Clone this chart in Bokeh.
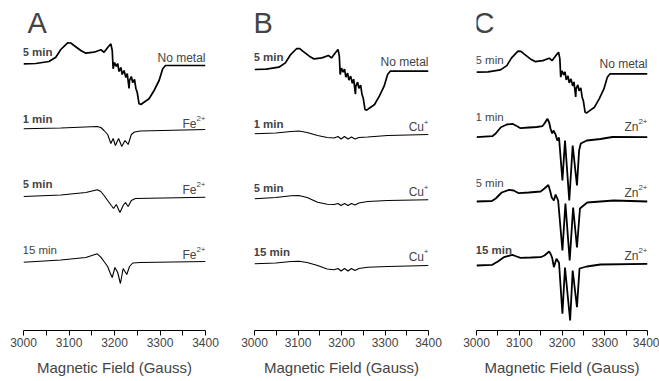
from bokeh.plotting import figure
from bokeh.layouts import row
from bokeh.models import Range1d, FixedTicker, Label
from bokeh.embed import file_html
from bokeh.resources import INLINE

# ---------------- data (field in Gauss, signal in arbitrary units, up = positive) -------------
field_ticks = [3000, 3100, 3200, 3300, 3400]
field_minor = [3050, 3150, 3250, 3350]

no_metal = [(3000, 0), (3027, 0.3), (3056, 2.3), (3071, 6.6), (3082, 14.3), (3097, 21), (3104, 20.8),
            (3111, 18.3), (3126, 13.3), (3137, 10.6), (3155, 11.6), (3170, 14), (3177, 11.6), (3185, 16.3),
            (3192, 20), (3195, 13.3), (3197, -5), (3200, 1.3), (3204, -2.7), (3207, 0.3), (3210, -7.7),
            (3214, -3.7), (3217, -10.7), (3221, -6.7), (3225, -13.7), (3228, -9.7), (3232, -24.7),
            (3233, -16.7), (3237, -12.7), (3240, -18.7), (3244, -15.7), (3247, -24.7), (3250, -28.7),
            (3254, -40), (3258, -40.7), (3264, -38.7), (3276, -35), (3287, -26.7), (3298, -16.7),
            (3306, -5), (3312, -1.7), (3400, -1.7)]

fe_1min = [(3000, 0), (3082, 0.8), (3162, 2.3), (3170, 1.3), (3177, -1.7), (3185, -5.7), (3192, -14.7),
           (3197, -9.7), (3202, -16.7), (3209, -9.7), (3216, -17.7), (3223, -11.7), (3230, -15.7),
           (3237, -5.7), (3244, -3.2), (3257, -2.2), (3400, -0.7)]
fe_5min = [(3000, 0), (3082, 1.5), (3137, 4), (3162, 6.7), (3170, 5), (3177, 1), (3185, -4), (3193, -9),
           (3198, -12), (3204, -8), (3212, -16), (3219, -9), (3224, -6), (3230, -10), (3237, -4),
           (3246, -2), (3400, -0.7)]
fe_15min = [(3000, 0), (3082, 2.2), (3137, 4.7), (3162, 8.4), (3170, 5), (3177, 0.7), (3185, -4.3),
            (3190, -10.3), (3195, -15.3), (3201, -5.3), (3207, -10.3), (3213, -21.3), (3219, -6.3),
            (3227, -12.3), (3233, -4.3), (3240, -0.8), (3257, -0.3), (3400, 0.7)]

cu_1min = [(3000, 0), (3049, 0.8), (3084, 2.3), (3102, 2.8), (3121, 1.3), (3145, -1.7), (3167, -3.7),
           (3183, -4.2), (3192, -2.7), (3199, -5.2), (3207, -2.7), (3215, -5.2), (3223, -3.2), (3231, -5.2),
           (3240, -3.7), (3260, -3.2), (3306, -1.7), (3400, -0.7)]
cu_5min = [(3000, 0), (3049, 1.3), (3084, 3.1), (3102, 3.3), (3121, 1.3), (3145, -3.4), (3167, -5.4),
           (3183, -5.7), (3192, -4.7), (3199, -6.7), (3207, -4.7), (3215, -6.7), (3223, -4.7), (3231, -6.2),
           (3240, -4.2), (3260, -2.7), (3306, -1.7), (3400, -1)]
cu_15min = [(3000, 0), (3049, 0.8), (3084, 2.3), (3102, 2.6), (3121, 1.3), (3145, -1.7), (3167, -5.2),
            (3183, -6), (3192, -4.7), (3199, -7.2), (3207, -4.7), (3215, -7.2), (3223, -4.7), (3231, -6.7),
            (3240, -4.7), (3260, -3.4), (3306, -2.7), (3400, -1.7)]

zn_1min = [(3000, 0), (3037, 1), (3045, 3.7), (3057, 10), (3071, 12.7), (3084, 13.4), (3094, 11.2),
           (3103, 9), (3123, 9.7), (3141, 10.2), (3154, 11), (3159, 13.7), (3166, 18.4), (3170, 14.7),
           (3173, 8.7), (3177, 3.7), (3180, 6.7), (3185, 2.7), (3189, -3.3), (3193, -0.3), (3201, -43.3),
           (3207, -3.3), (3217, -63.3), (3225, -8.3), (3235, -48.3), (3240, -13.3), (3244, -6.3),
           (3258, -3.3), (3290, -1.8), (3318, 0.2), (3400, 0)]
zn_5min = [(3000, 0), (3036, 0.5), (3045, 3), (3059, 9), (3076, 11.7), (3087, 11), (3099, 8.3), (3122, 9),
           (3150, 10), (3159, 13), (3168, 16.5), (3172, 11), (3176, 4), (3181, 1), (3185, 7), (3191, 1),
           (3201, -49), (3208, -2), (3218, -59), (3226, -6), (3235, -46), (3242, -7), (3259, -1),
           (3321, 1), (3400, 0)]
zn_15min = [(3000, 0), (3037, 0.7), (3050, 4), (3064, 8.3), (3084, 10.7), (3094, 9), (3103, 7.7),
            (3127, 8), (3150, 8.3), (3159, 10), (3170, 14), (3174, 11), (3177, 7.7), (3181, -1.7),
            (3187, 6.7), (3193, 2.7), (3201, -48.3), (3207, -2), (3219, -55), (3225, -5), (3235, -41.7),
            (3241, -3), (3258, -1), (3290, 1), (3400, 1.7)]

# ---------------- layout / style ----------------
FONT = "Liberation Sans"
TOP = 0          # page y of frame top
AXIS_Y = 330     # page y of axis line
FIG_H = 381


def page_y(y):
    return -y


def make_panel(letter, width, b_left, b_right, letter_dx, traces, labels):
    p = figure(width=width, height=FIG_H, output_backend="svg", toolbar_location=None,
               x_range=Range1d(3000, 3400), y_range=Range1d(-AXIS_Y, -TOP),
               min_border_left=b_left, min_border_right=b_right, min_border_top=0,
               min_border_bottom=FIG_H - (AXIS_Y - TOP))
    p.outline_line_color = None
    p.grid.visible = False
    p.yaxis.visible = False
    ax = p.xaxis[0]
    ax.ticker = FixedTicker(ticks=field_ticks, minor_ticks=field_minor)
    ax.axis_label = "Magnetic Field (Gauss)"
    ax.axis_label_text_font = FONT
    ax.axis_label_text_font_style = "normal"
    ax.axis_label_text_font_size = "15px"
    ax.axis_label_standoff = 9
    ax.major_label_text_font = FONT
    ax.major_label_text_font_size = "12px"
    ax.major_label_standoff = 2
    ax.major_tick_in = 0
    ax.major_tick_out = 5
    ax.minor_tick_in = 0
    ax.minor_tick_out = 5
    ax.axis_line_width = 1
    ax.axis_line_color = "black"
    ax.major_tick_line_color = "black"
    ax.minor_tick_line_color = "black"

    for data, base, lw in traces:
        xs = [f for f, s in data]
        ys = [page_y(base) + s for f, s in data]
        p.line(xs, ys, line_color="black", line_width=lw)

    p.add_layout(Label(x=3000, y=page_y(22.5), x_offset=letter_dx, text=letter, text_font=FONT,
                       text_font_size="29px", text_baseline="middle", text_align="left"))

    for txt, yc, bold, metal, mbase, sup in labels:
        p.add_layout(Label(x=3000, y=page_y(yc), x_offset=-1, text=txt, text_font=FONT,
                           text_font_size="11.5px", text_baseline="middle", text_align="left",
                           text_font_style="bold" if bold else "normal"))
        if sup:
            sw = 4.5 * len(sup)
            p.add_layout(Label(x=3400, y=page_y(mbase), x_offset=-sw, text=metal, text_font=FONT,
                               text_font_size="12px", text_baseline="middle", text_align="right"))
            p.add_layout(Label(x=3400, y=page_y(mbase - 5), x_offset=0, text=sup, text_font=FONT,
                               text_font_size="8px", text_baseline="middle", text_align="right"))
        else:
            p.add_layout(Label(x=3400, y=page_y(mbase), x_offset=0, text=metal, text_font=FONT,
                               text_font_size="12px", text_baseline="middle", text_align="right"))
    return p


pA = make_panel("A", 230, 23, 25, 4,
                [(no_metal, 63.3, 1.7), (fe_1min, 128.3, 1.1), (fe_5min, 196, 1.1), (fe_15min, 261.7, 1.1)],
                [("5 min", 51.5, True, "No metal", 57, ""),
                 ("1 min", 118, True, "Fe", 123, "2+"),
                 ("5 min", 183.5, True, "Fe", 189, "2+"),
                 ("15 min", 249, False, "Fe", 254, "2+")])
pB = make_panel("B", 225, 24, 27, -1,
                [(no_metal, 69, 1.7), (cu_1min, 133.3, 1.1), (cu_5min, 198.3, 1.1), (cu_15min, 263.3, 1.1)],
                [("5 min", 56.5, True, "No metal", 61, ""),
                 ("1 min", 123, True, "Cu", 126.5, "+"),
                 ("5 min", 187.5, True, "Cu", 191.5, "+"),
                 ("15 min", 251.5, True, "Cu", 256, "+")])
pC = make_panel("C", 204, 21, 12, -3,
                [(no_metal, 71.7, 1.7), (zn_1min, 136.7, 1.8), (zn_5min, 201, 1.8), (zn_15min, 265, 1.8)],
                [("5 min", 59, False, "No metal", 63.5, ""),
                 ("1 min", 116, False, "Zn", 126, "2+"),
                 ("5 min", 182.5, False, "Zn", 192, "2+"),
                 ("15 min", 249, True, "Zn", 255, "2+")])

layout = row(pA, pB, pC, spacing=0)
open("out.html", "w").write(file_html(layout, INLINE))
